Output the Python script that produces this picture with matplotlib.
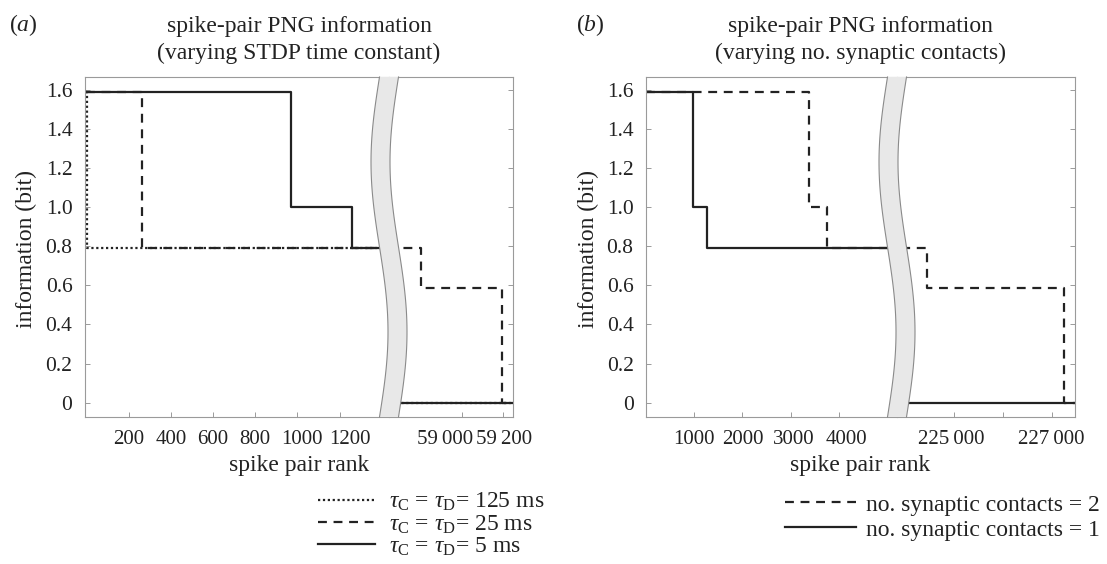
import numpy as np
import matplotlib
matplotlib.use("Agg")
import matplotlib.pyplot as plt
import matplotlib.transforms as mtransforms
from matplotlib.patches import Polygon
from matplotlib.lines import Line2D

plt.rcParams["font.family"] = ["Liberation Serif", "DejaVu Serif"]
plt.rcParams["mathtext.fontset"] = "custom"
plt.rcParams["mathtext.rm"] = "Liberation Serif"
plt.rcParams["mathtext.it"] = "Liberation Serif:italic"

# information levels on the y axis
info_ticks = [0, 0.2, 0.4, 0.6, 0.8, 1.0, 1.2, 1.4, 1.6]
info_labels = ["0", "0.2", "0.4", "0.6", "0.8", "1.0", "1.2", "1.4", "1.6"]

# (a) varying STDP time constant: rank where each step starts, information (bit)
tau125_rank = [0, 1, 58600, 59260]
tau125_info = [1.585, 0.792, 0.0, 0.0]
tau25_rank = [0, 265, 58800, 59198, 59260]
tau25_info = [1.585, 0.792, 0.585, 0.0, 0.0]
tau5_rank = [0, 968, 1259, 58500, 59260]
tau5_info = [1.585, 1.0, 0.792, 0.0, 0.0]

a_ticks_left = [200, 400, 600, 800, 1000, 1200]
a_labels_left = ["200", "400", "600", "800", "1000", "1200"]
a_ticks_right = [59000, 59200]
a_labels_right = ["59\u2009000", "59\u2009200"]

# (b) varying number of synaptic contacts
syn2_rank = [0, 3382, 3762, 224446, 227253, 227500]
syn2_info = [1.585, 1.0, 0.792, 0.585, 0.0, 0.0]
syn1_rank = [0, 970, 1259, 223000, 227500]
syn1_info = [1.585, 1.0, 0.792, 0.0, 0.0]

b_ticks_left = [1000, 2000, 3000, 4000]
b_labels_left = ["1000", "2000", "3000", "4000"]
b_ticks_right = [225000, 226000, 227000]
b_labels_right = ["225\u2009000", "", "227\u2009000"]

W, H = 1107, 564
TOP, BOT = 77, 417
INK = "#222222"
FRAME = "#9a9a9a"

fig = plt.figure(figsize=(W / 100, H / 100), dpi=100)


def box(x0, x1):
    return [x0 / W, 1 - BOT / H, (x1 - x0) / W, (BOT - TOP) / H]


def style(ax, side):
    ax.set_ylim(-0.073, 1.664)
    ax.set_yticks(info_ticks)
    for s in ax.spines.values():
        s.set_color(FRAME)
        s.set_linewidth(0.8)
    ax.tick_params(direction="in", length=3.5, width=0.7, color=FRAME,
                   labelsize=15.5, labelcolor=INK, labelbottom=False)
    if side == "left":
        ax.spines["right"].set_visible(False)
        ax.set_yticklabels(info_labels)
        ax.tick_params(axis="y", left=True, right=False, pad=9)
    else:
        ax.spines["left"].set_visible(False)
        ax.tick_params(axis="y", left=False, right=True, labelleft=False)


def xlabels(ax, ticks, labels, shifts):
    # tick labels written as text so a few can sit slightly off their tick, as in the figure
    ax.set_xticks(ticks)
    for val, lab, dx in zip(ticks, labels, shifts):
        tr = mtransforms.blended_transform_factory(ax.transData, fig.transFigure)
        tr = tr + mtransforms.ScaledTranslation(dx / 100, 0, fig.dpi_scale_trans)
        ax.text(val, 1 - 440 / H, lab, transform=tr, ha="center", va="center",
                fontsize=15, color=INK, clip_on=False)


def band(cx):
    t = np.linspace(0, 1, 120)
    yc = TOP + t * (BOT - TOP)
    xc = cx - 8.5 * np.sin(2 * np.pi * t)
    xl, xr = xc - 9.5, xc + 9.5
    pts = np.vstack([np.column_stack([xl, yc]), np.column_stack([xr[::-1], yc[::-1]])])
    pts = np.column_stack([pts[:, 0] / W, 1 - pts[:, 1] / H])
    fig.add_artist(Polygon(pts, closed=True, transform=fig.transFigure,
                           facecolor="#e8e8e8", edgecolor="none", zorder=10))
    for xe in (xl, xr):
        fig.add_artist(Line2D(xe / W, 1 - yc / H, transform=fig.transFigure,
                              color="#8a8a8a", lw=0.8, zorder=11))


def panel(x0, xs, x1, lim_l, lim_r, left_ticks, right_ticks, series):
    axl = fig.add_axes(box(x0, xs))
    axr = fig.add_axes(box(xs, x1))
    for ax, lim in ((axl, lim_l), (axr, lim_r)):
        for rank, info, ls, lab in series:
            ax.step(rank, info, where="post", color=INK, lw=1.6, linestyle=ls, label=lab)
        ax.set_xlim(*lim)
    style(axl, "left")
    style(axr, "right")
    xlabels(axl, *left_ticks)
    xlabels(axr, *right_ticks)
    band(xs)
    return axl, axr


dot = (0, (1, 1.2))
dash = (0, (4, 3))

axa, _ = panel(85, 389, 513, (-7, 1434), (58645, 59250),
               (a_ticks_left, a_labels_left, [0, 0, 0, 0, 4, 10]),
               (a_ticks_right, a_labels_right, [-17, 1]),
               [(tau125_rank, tau125_info, dot, r"$\tau_{\rm C}$ = $\tau_{\rm D}$= 125 ms"),
                (tau25_rank, tau25_info, dash, r"$\tau_{\rm C}$ = $\tau_{\rm D}$= 25 ms"),
                (tau5_rank, tau5_info, "-", r"$\tau_{\rm C}$ = $\tau_{\rm D}$= 5 ms")])

axb, _ = panel(646, 897, 1075, (0, 5207), (223823, 227478),
               (b_ticks_left, b_labels_left, [0, 0, 3, 8]),
               (b_ticks_right, b_labels_right, [-3, 0, 0]),
               [(syn2_rank, syn2_info, dash, "no. synaptic contacts = 2"),
                (syn1_rank, syn1_info, "-", "no. synaptic contacts = 1")])

# titles, panel letters, axis labels
for cx, sub in ((299, "(varying STDP time constant)"),
                (860.5, "(varying no. synaptic contacts)")):
    fig.text(cx / W, 1 - 40 / H, "spike-pair PNG information\n" + sub,
             ha="center", va="center", fontsize=17, color=INK, linespacing=1.4)
    fig.text(cx / W, 1 - 465 / H, "spike pair rank", ha="center", va="center",
             fontsize=17, color=INK)

fig.text(23 / W, 1 - 25 / H, r"($\it{a}$)", ha="center", va="center", fontsize=17, color=INK)
fig.text(590 / W, 1 - 25 / H, r"($\it{b}$)", ha="center", va="center", fontsize=17, color=INK)
fig.text(26 / W, 1 - 249 / H, "information (bit)", rotation=90, ha="center", va="center",
         fontsize=17, color=INK)
fig.text(588 / W, 1 - 249 / H, "information (bit)", rotation=90, ha="center", va="center",
         fontsize=17, color=INK)

# legends below each panel
ha, la = axa.get_legend_handles_labels()
fig.legend(ha, la, loc="upper left", bbox_to_anchor=(318 / W, 1 - 491 / H),
           frameon=False, fontsize=17, handlelength=2.4, handletextpad=0.6,
           labelspacing=0.0, borderpad=0, borderaxespad=0, labelcolor=INK)
hb, lb = axb.get_legend_handles_labels()
fig.legend(hb, lb, loc="upper left", bbox_to_anchor=(785 / W, 1 - 494 / H),
           frameon=False, fontsize=17, handlelength=3.0, handletextpad=0.45,
           labelspacing=0.15, borderpad=0, borderaxespad=0, labelcolor=INK)

fig.savefig("out.png", dpi=100)
